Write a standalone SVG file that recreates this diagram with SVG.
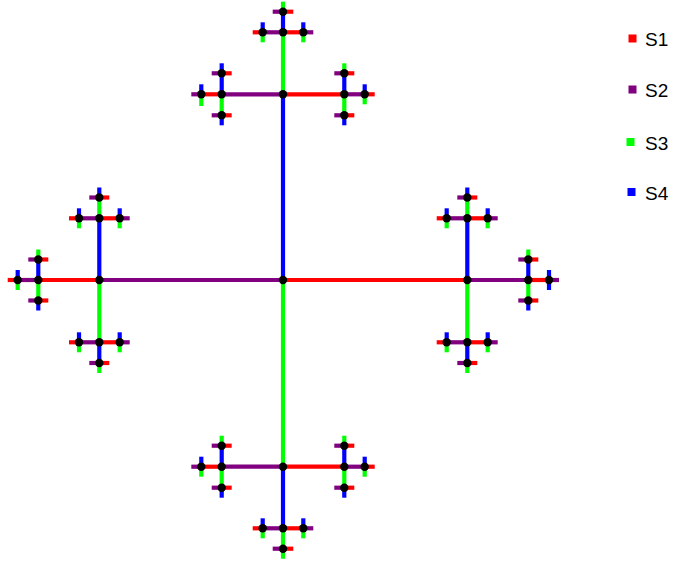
<svg xmlns="http://www.w3.org/2000/svg" width="673" height="565" viewBox="0 0 673 565">
<style>
line{stroke-width:4.2;stroke-linecap:butt}
.s1{stroke:#ff0000}.s2{stroke:#800080}.s3{stroke:#00ff00}.s4{stroke:#0000ff}
circle{fill:#000}
.lg{font-family:"Liberation Sans",Arial,sans-serif;font-size:19px;fill:#000}
</style>
<rect width="673" height="565" fill="#fff"/>
<g id="connectors">
<!-- level 0 -->
<line class="s4" x1="283" y1="94.3" x2="283" y2="280"/>
<line class="s3" x1="283" y1="280" x2="283" y2="466.7"/>
<line class="s2" x1="99.3" y1="280" x2="283" y2="280"/>
<line class="s1" x1="283" y1="280" x2="467.3" y2="280"/>
<!-- top -->
<line class="s3" x1="283" y1="32.3" x2="283" y2="94.3"/>
<line class="s2" x1="221.7" y1="94.3" x2="283" y2="94.3"/>
<line class="s1" x1="283" y1="94.3" x2="344.3" y2="94.3"/>
<line class="s4" x1="283" y1="11.7" x2="283" y2="32.3"/>
<line class="s2" x1="262.7" y1="32.3" x2="283" y2="32.3"/>
<line class="s1" x1="283" y1="32.3" x2="303.3" y2="32.3"/>
<line class="s3" x1="283" y1="1.7" x2="283" y2="11.7"/>
<line class="s2" x1="272.7" y1="11.7" x2="283" y2="11.7"/>
<line class="s1" x1="283" y1="11.7" x2="293.3" y2="11.7"/>
<line class="s1" x1="252.7" y1="32.3" x2="262.7" y2="32.3"/>
<line class="s4" x1="262.7" y1="22.3" x2="262.7" y2="32.3"/>
<line class="s3" x1="262.7" y1="32.3" x2="262.7" y2="42.3"/>
<line class="s2" x1="303.3" y1="32.3" x2="313.3" y2="32.3"/>
<line class="s4" x1="303.3" y1="22.3" x2="303.3" y2="32.3"/>
<line class="s3" x1="303.3" y1="32.3" x2="303.3" y2="42.3"/>
<line class="s4" x1="221.7" y1="73.3" x2="221.7" y2="94.3"/>
<line class="s3" x1="221.7" y1="94.3" x2="221.7" y2="115.3"/>
<line class="s1" x1="201.3" y1="94.3" x2="221.7" y2="94.3"/>
<line class="s4" x1="221.7" y1="63.3" x2="221.7" y2="73.3"/>
<line class="s2" x1="211.7" y1="73.3" x2="221.7" y2="73.3"/>
<line class="s1" x1="221.7" y1="73.3" x2="231.7" y2="73.3"/>
<line class="s4" x1="221.7" y1="115.3" x2="221.7" y2="125.3"/>
<line class="s2" x1="211.7" y1="115.3" x2="221.7" y2="115.3"/>
<line class="s1" x1="221.7" y1="115.3" x2="231.7" y2="115.3"/>
<line class="s2" x1="191.3" y1="94.3" x2="201.3" y2="94.3"/>
<line class="s4" x1="201.3" y1="84.3" x2="201.3" y2="94.3"/>
<line class="s3" x1="201.3" y1="94.3" x2="201.3" y2="106"/>
<line class="s4" x1="344.3" y1="73.3" x2="344.3" y2="94.3"/>
<line class="s3" x1="344.3" y1="94.3" x2="344.3" y2="115.3"/>
<line class="s2" x1="344.3" y1="94.3" x2="364.7" y2="94.3"/>
<line class="s3" x1="344.3" y1="63.3" x2="344.3" y2="73.3"/>
<line class="s2" x1="334.3" y1="73.3" x2="344.3" y2="73.3"/>
<line class="s1" x1="344.3" y1="73.3" x2="354.3" y2="73.3"/>
<line class="s4" x1="344.3" y1="115.3" x2="344.3" y2="125.3"/>
<line class="s2" x1="334.3" y1="115.3" x2="344.3" y2="115.3"/>
<line class="s1" x1="344.3" y1="115.3" x2="354.3" y2="115.3"/>
<line class="s1" x1="364.7" y1="94.3" x2="374.7" y2="94.3"/>
<line class="s4" x1="364.7" y1="84.3" x2="364.7" y2="94.3"/>
<line class="s3" x1="364.7" y1="94.3" x2="364.7" y2="104.3"/>
<!-- bottom -->
<line class="s4" x1="283" y1="466.7" x2="283" y2="528.3"/>
<line class="s2" x1="221.7" y1="466.7" x2="283" y2="466.7"/>
<line class="s1" x1="283" y1="466.7" x2="344.3" y2="466.7"/>
<line class="s3" x1="283" y1="528.3" x2="283" y2="548.7"/>
<line class="s2" x1="262.7" y1="528.3" x2="283" y2="528.3"/>
<line class="s1" x1="283" y1="528.3" x2="303.3" y2="528.3"/>
<line class="s3" x1="283" y1="548.7" x2="283" y2="558.7"/>
<line class="s2" x1="272.7" y1="548.7" x2="283" y2="548.7"/>
<line class="s1" x1="283" y1="548.7" x2="293.3" y2="548.7"/>
<line class="s1" x1="252.7" y1="528.3" x2="262.7" y2="528.3"/>
<line class="s4" x1="262.7" y1="518.3" x2="262.7" y2="528.3"/>
<line class="s3" x1="262.7" y1="528.3" x2="262.7" y2="538.3"/>
<line class="s2" x1="303.3" y1="528.3" x2="313.3" y2="528.3"/>
<line class="s4" x1="303.3" y1="518.3" x2="303.3" y2="528.3"/>
<line class="s3" x1="303.3" y1="528.3" x2="303.3" y2="538.3"/>
<line class="s4" x1="221.7" y1="445.7" x2="221.7" y2="466.7"/>
<line class="s3" x1="221.7" y1="466.7" x2="221.7" y2="487.7"/>
<line class="s1" x1="201.3" y1="466.7" x2="221.7" y2="466.7"/>
<line class="s3" x1="221.7" y1="435.7" x2="221.7" y2="445.7"/>
<line class="s2" x1="211.7" y1="445.7" x2="221.7" y2="445.7"/>
<line class="s1" x1="221.7" y1="445.7" x2="231.7" y2="445.7"/>
<line class="s4" x1="221.7" y1="487.7" x2="221.7" y2="497.7"/>
<line class="s2" x1="211.7" y1="487.7" x2="221.7" y2="487.7"/>
<line class="s1" x1="221.7" y1="487.7" x2="231.7" y2="487.7"/>
<line class="s2" x1="191.3" y1="466.7" x2="201.3" y2="466.7"/>
<line class="s4" x1="201.3" y1="456.7" x2="201.3" y2="466.7"/>
<line class="s3" x1="201.3" y1="466.7" x2="201.3" y2="476.7"/>
<line class="s4" x1="344.3" y1="445.7" x2="344.3" y2="466.7"/>
<line class="s3" x1="344.3" y1="466.7" x2="344.3" y2="487.7"/>
<line class="s2" x1="344.3" y1="466.7" x2="364.7" y2="466.7"/>
<line class="s3" x1="344.3" y1="435.7" x2="344.3" y2="445.7"/>
<line class="s2" x1="334.3" y1="445.7" x2="344.3" y2="445.7"/>
<line class="s1" x1="344.3" y1="445.7" x2="354.3" y2="445.7"/>
<line class="s4" x1="344.3" y1="487.7" x2="344.3" y2="497.7"/>
<line class="s2" x1="334.3" y1="487.7" x2="344.3" y2="487.7"/>
<line class="s1" x1="344.3" y1="487.7" x2="354.3" y2="487.7"/>
<line class="s1" x1="364.7" y1="466.7" x2="374.7" y2="466.7"/>
<line class="s4" x1="364.7" y1="456.7" x2="364.7" y2="466.7"/>
<line class="s3" x1="364.7" y1="466.7" x2="364.7" y2="476.7"/>
<!-- left -->
<line class="s4" x1="99.3" y1="218.3" x2="99.3" y2="280"/>
<line class="s3" x1="99.3" y1="280" x2="99.3" y2="342.3"/>
<line class="s1" x1="38.3" y1="280" x2="99.3" y2="280"/>
<line class="s3" x1="99.3" y1="197.5" x2="99.3" y2="218.3"/>
<line class="s2" x1="79" y1="218.3" x2="99.3" y2="218.3"/>
<line class="s1" x1="99.3" y1="218.3" x2="119.7" y2="218.3"/>
<line class="s4" x1="99.3" y1="187.5" x2="99.3" y2="197.5"/>
<line class="s2" x1="89.3" y1="197.5" x2="99.3" y2="197.5"/>
<line class="s1" x1="99.3" y1="197.5" x2="109.3" y2="197.5"/>
<line class="s1" x1="69" y1="218.3" x2="79" y2="218.3"/>
<line class="s4" x1="79" y1="208.3" x2="79" y2="218.3"/>
<line class="s3" x1="79" y1="218.3" x2="79" y2="228.3"/>
<line class="s2" x1="119.7" y1="218.3" x2="129.7" y2="218.3"/>
<line class="s4" x1="119.7" y1="208.3" x2="119.7" y2="218.3"/>
<line class="s3" x1="119.7" y1="218.3" x2="119.7" y2="228.3"/>
<line class="s4" x1="99.3" y1="342.3" x2="99.3" y2="363"/>
<line class="s2" x1="79" y1="342.3" x2="99.3" y2="342.3"/>
<line class="s1" x1="99.3" y1="342.3" x2="119.7" y2="342.3"/>
<line class="s3" x1="99.3" y1="363" x2="99.3" y2="373"/>
<line class="s2" x1="89.3" y1="363" x2="99.3" y2="363"/>
<line class="s1" x1="99.3" y1="363" x2="109.3" y2="363"/>
<line class="s1" x1="69" y1="342.3" x2="79" y2="342.3"/>
<line class="s4" x1="79" y1="332.3" x2="79" y2="342.3"/>
<line class="s3" x1="79" y1="342.3" x2="79" y2="352.3"/>
<line class="s2" x1="119.7" y1="342.3" x2="129.7" y2="342.3"/>
<line class="s4" x1="119.7" y1="332.3" x2="119.7" y2="342.3"/>
<line class="s3" x1="119.7" y1="342.3" x2="119.7" y2="352.3"/>
<line class="s4" x1="38.3" y1="259.5" x2="38.3" y2="280"/>
<line class="s3" x1="38.3" y1="280" x2="38.3" y2="300.5"/>
<line class="s2" x1="17.7" y1="280" x2="38.3" y2="280"/>
<line class="s3" x1="38.3" y1="249.5" x2="38.3" y2="259.5"/>
<line class="s2" x1="28.3" y1="259.5" x2="38.3" y2="259.5"/>
<line class="s1" x1="38.3" y1="259.5" x2="48.3" y2="259.5"/>
<line class="s4" x1="38.3" y1="300.5" x2="38.3" y2="310.5"/>
<line class="s2" x1="28.3" y1="300.5" x2="38.3" y2="300.5"/>
<line class="s1" x1="38.3" y1="300.5" x2="48.3" y2="300.5"/>
<line class="s1" x1="7.7" y1="280" x2="17.7" y2="280"/>
<line class="s4" x1="17.7" y1="270" x2="17.7" y2="280"/>
<line class="s3" x1="17.7" y1="280" x2="17.7" y2="290"/>
<!-- right -->
<line class="s4" x1="467.3" y1="218.3" x2="467.3" y2="280"/>
<line class="s3" x1="467.3" y1="280" x2="467.3" y2="342.3"/>
<line class="s2" x1="467.3" y1="280" x2="528.3" y2="280"/>
<line class="s3" x1="467.3" y1="197.5" x2="467.3" y2="218.3"/>
<line class="s2" x1="446.7" y1="218.3" x2="467.3" y2="218.3"/>
<line class="s1" x1="467.3" y1="218.3" x2="487.7" y2="218.3"/>
<line class="s4" x1="467.3" y1="187.5" x2="467.3" y2="197.5"/>
<line class="s2" x1="457.3" y1="197.5" x2="467.3" y2="197.5"/>
<line class="s1" x1="467.3" y1="197.5" x2="477.3" y2="197.5"/>
<line class="s1" x1="436.7" y1="218.3" x2="446.7" y2="218.3"/>
<line class="s4" x1="446.7" y1="208.3" x2="446.7" y2="218.3"/>
<line class="s3" x1="446.7" y1="218.3" x2="446.7" y2="228.3"/>
<line class="s2" x1="487.7" y1="218.3" x2="497.7" y2="218.3"/>
<line class="s4" x1="487.7" y1="208.3" x2="487.7" y2="218.3"/>
<line class="s3" x1="487.7" y1="218.3" x2="487.7" y2="228.3"/>
<line class="s4" x1="467.3" y1="342.3" x2="467.3" y2="363"/>
<line class="s2" x1="446.7" y1="342.3" x2="467.3" y2="342.3"/>
<line class="s1" x1="467.3" y1="342.3" x2="487.7" y2="342.3"/>
<line class="s3" x1="467.3" y1="363" x2="467.3" y2="373"/>
<line class="s2" x1="457.3" y1="363" x2="467.3" y2="363"/>
<line class="s1" x1="467.3" y1="363" x2="477.3" y2="363"/>
<line class="s1" x1="436.7" y1="342.3" x2="446.7" y2="342.3"/>
<line class="s4" x1="446.7" y1="332.3" x2="446.7" y2="342.3"/>
<line class="s3" x1="446.7" y1="342.3" x2="446.7" y2="352.3"/>
<line class="s2" x1="487.7" y1="342.3" x2="497.7" y2="342.3"/>
<line class="s4" x1="487.7" y1="332.3" x2="487.7" y2="342.3"/>
<line class="s3" x1="487.7" y1="342.3" x2="487.7" y2="352.3"/>
<line class="s4" x1="528.3" y1="259.5" x2="528.3" y2="280"/>
<line class="s3" x1="528.3" y1="280" x2="528.3" y2="300.5"/>
<line class="s1" x1="528.3" y1="280" x2="549" y2="280"/>
<line class="s3" x1="528.3" y1="249.5" x2="528.3" y2="259.5"/>
<line class="s2" x1="518.3" y1="259.5" x2="528.3" y2="259.5"/>
<line class="s1" x1="528.3" y1="259.5" x2="538.3" y2="259.5"/>
<line class="s4" x1="528.3" y1="300.5" x2="528.3" y2="310.5"/>
<line class="s2" x1="518.3" y1="300.5" x2="528.3" y2="300.5"/>
<line class="s1" x1="528.3" y1="300.5" x2="538.3" y2="300.5"/>
<line class="s2" x1="549" y1="280" x2="559" y2="280"/>
<line class="s4" x1="549" y1="270" x2="549" y2="280"/>
<line class="s4" x1="549" y1="280" x2="549" y2="290"/>
</g>
<g id="n-c"><circle cx="283" cy="280" r="4.2"/></g>
<g id="n-a"><circle cx="283" cy="94.3" r="4.2"/></g>
<g id="n-b"><circle cx="283" cy="466.7" r="4.2"/></g>
<g id="n-l"><circle cx="99.3" cy="280" r="4.2"/></g>
<g id="n-r"><circle cx="467.3" cy="280" r="4.2"/></g>
<g id="n-t-u"><circle cx="283" cy="32.3" r="4.2"/></g>
<g id="n-t-l"><circle cx="221.7" cy="94.3" r="4.2"/></g>
<g id="n-t-r"><circle cx="344.3" cy="94.3" r="4.2"/></g>
<g id="n-t1"><circle cx="283" cy="11.7" r="4.2"/></g>
<g id="n-t2"><circle cx="262.7" cy="32.3" r="4.2"/></g>
<g id="n-t3"><circle cx="303.3" cy="32.3" r="4.2"/></g>
<g id="n-t4"><circle cx="221.7" cy="73.3" r="4.2"/></g>
<g id="n-t5"><circle cx="221.7" cy="115.3" r="4.2"/></g>
<g id="n-t6"><circle cx="201.3" cy="94.3" r="4.2"/></g>
<g id="n-t7"><circle cx="344.3" cy="73.3" r="4.2"/></g>
<g id="n-t8"><circle cx="344.3" cy="115.3" r="4.2"/></g>
<g id="n-t9"><circle cx="364.7" cy="94.3" r="4.2"/></g>
<g id="n-b-d"><circle cx="283" cy="528.3" r="4.2"/></g>
<g id="n-b-l"><circle cx="221.7" cy="466.7" r="4.2"/></g>
<g id="n-b-r"><circle cx="344.3" cy="466.7" r="4.2"/></g>
<g id="n-b1"><circle cx="283" cy="548.7" r="4.2"/></g>
<g id="n-b2"><circle cx="262.7" cy="528.3" r="4.2"/></g>
<g id="n-b3"><circle cx="303.3" cy="528.3" r="4.2"/></g>
<g id="n-b4"><circle cx="221.7" cy="445.7" r="4.2"/></g>
<g id="n-b5"><circle cx="221.7" cy="487.7" r="4.2"/></g>
<g id="n-b6"><circle cx="201.3" cy="466.7" r="4.2"/></g>
<g id="n-b7"><circle cx="344.3" cy="445.7" r="4.2"/></g>
<g id="n-b8"><circle cx="344.3" cy="487.7" r="4.2"/></g>
<g id="n-b9"><circle cx="364.7" cy="466.7" r="4.2"/></g>
<g id="n-l-u"><circle cx="99.3" cy="218.3" r="4.2"/></g>
<g id="n-l-d"><circle cx="99.3" cy="342.3" r="4.2"/></g>
<g id="n-l-l"><circle cx="38.3" cy="280" r="4.2"/></g>
<g id="n-l1"><circle cx="99.3" cy="197.5" r="4.2"/></g>
<g id="n-l2"><circle cx="79" cy="218.3" r="4.2"/></g>
<g id="n-l3"><circle cx="119.7" cy="218.3" r="4.2"/></g>
<g id="n-l4"><circle cx="99.3" cy="363" r="4.2"/></g>
<g id="n-l5"><circle cx="79" cy="342.3" r="4.2"/></g>
<g id="n-l6"><circle cx="119.7" cy="342.3" r="4.2"/></g>
<g id="n-l7"><circle cx="38.3" cy="259.5" r="4.2"/></g>
<g id="n-l8"><circle cx="38.3" cy="300.5" r="4.2"/></g>
<g id="n-l9"><circle cx="17.7" cy="280" r="4.2"/></g>
<g id="n-r-u"><circle cx="467.3" cy="218.3" r="4.2"/></g>
<g id="n-r-d"><circle cx="467.3" cy="342.3" r="4.2"/></g>
<g id="n-r-r"><circle cx="528.3" cy="280" r="4.2"/></g>
<g id="n-r1"><circle cx="467.3" cy="197.5" r="4.2"/></g>
<g id="n-r2"><circle cx="446.7" cy="218.3" r="4.2"/></g>
<g id="n-r3"><circle cx="487.7" cy="218.3" r="4.2"/></g>
<g id="n-r4"><circle cx="467.3" cy="363" r="4.2"/></g>
<g id="n-r5"><circle cx="446.7" cy="342.3" r="4.2"/></g>
<g id="n-r6"><circle cx="487.7" cy="342.3" r="4.2"/></g>
<g id="n-r7"><circle cx="528.3" cy="259.5" r="4.2"/></g>
<g id="n-r8"><circle cx="528.3" cy="300.5" r="4.2"/></g>
<g id="n-r9"><circle cx="549" cy="280" r="4.2"/></g>
<g id="legend">
<rect x="628.5" y="34.5" width="8" height="8" fill="#ff0000"/>
<text class="lg" x="645" y="46">S1</text>
<rect x="628.5" y="85.5" width="8" height="8" fill="#800080"/>
<text class="lg" x="645" y="97">S2</text>
<rect x="626.5" y="138" width="8" height="8" fill="#00ff00"/>
<text class="lg" x="645" y="149.5">S3</text>
<rect x="627.5" y="188" width="8" height="8" fill="#0000ff"/>
<text class="lg" x="645" y="199.5">S4</text>
</g>
</svg>
